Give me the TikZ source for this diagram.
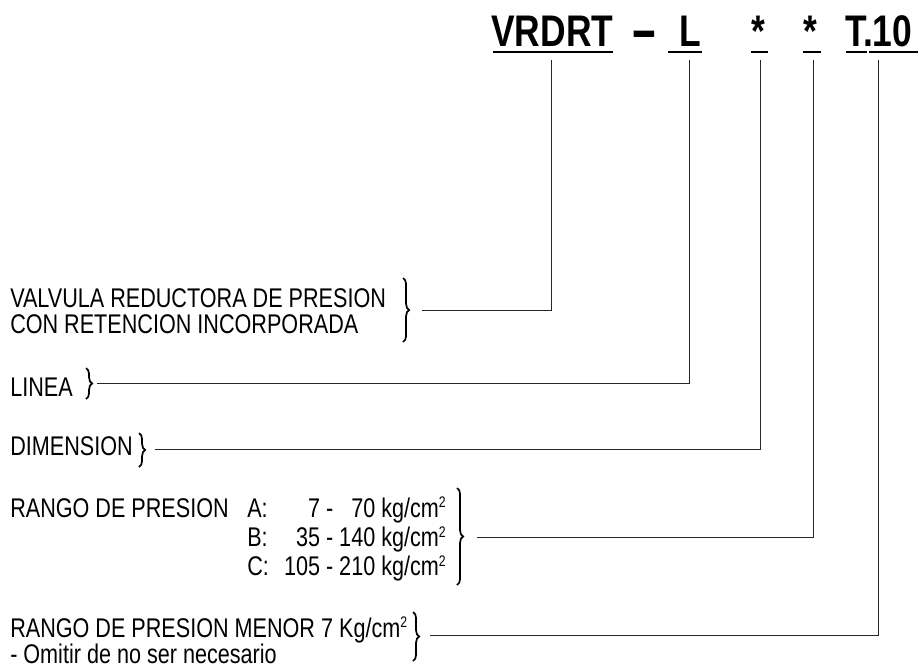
\documentclass[tikz,border=0pt]{standalone}
\usepackage{fontspec}
\newfontfamily\nf[FakeStretch=0.8]{Liberation Sans}
\newfontfamily\nfdash[FakeStretch=0.8,FakeBold=3]{Liberation Sans}
\usetikzlibrary{decorations.pathreplacing}
\newcommand\sqmark{\raisebox{6.8pt}{\fontsize{11.5}{11.5}\selectfont 2}}
\begin{document}
\begin{tikzpicture}[x=0.75pt,y=-0.75pt,
 lbl/.style={inner sep=0pt,anchor=base west,font={\nf\fontsize{20.25}{24}\selectfont}},
 rowtxt/.style={inner sep=0pt,font={\nf\fontsize{20.25}{22.1}\selectfont\lineskiplimit=-100pt\lineskip=0pt}},
 ttl/.style={inner sep=0pt,anchor=base west,font={\nf\bfseries\fontsize{33.2}{40}\selectfont}},
 conn/.style={line width=0.7pt,draw=black!85},
 uline/.style={line width=1.1pt},
 brc/.style={decorate,decoration={brace,amplitude=4.6pt},line width=1.3pt}]
\useasboundingbox (0,0) rectangle (919,668);

% title code
\node[ttl] (tv) at (491,46.7) {VRDRT};
\node[ttl,font={\nfdash\bfseries\fontsize{36}{40}\selectfont}] (td) at (633,46.7) {–};
\node[ttl] (tl) at (679,46.7) {L};
\node[ttl] (ts1) at (751,46.7) {*};
\node[ttl] (ts2) at (803,46.7) {*};
\node[ttl] (tt) at (845,46.7) {T.10};
\draw[uline] (493,52) -- (613,52);
\draw[uline] (668,52) -- (702,52);
\draw[uline] (751,52) -- (768,52);
\draw[uline] (803,52) -- (821,52);
\draw[uline] (846,52) -- (867,52);
\draw[uline] (869,52) -- (918,52);

% labels
\node[lbl] (v1) at (10,307) {VALVULA REDUCTORA DE PRESION};
\node[lbl] (v2) at (10,333) {CON RETENCION INCORPORADA};
\node[lbl] (li) at (10,396) {LINEA};
\node[lbl] (di) at (10,455) {DIMENSION};
\node[lbl] (rp) at (10,517) {RANGO DE PRESION};
\node[rowtxt,align=left,anchor=north west] (rabc) at (247,497)
  {\vphantom{\sqmark}A:\\B:\\C:};
\node[rowtxt,align=right,anchor=north east] (vabc) at (446,497)
  {\vphantom{\sqmark}7 - \phantom{1}70 kg/cm\sqmark\\35 - 140 kg/cm\sqmark\\105 - 210 kg/cm\sqmark};
\node[lbl] (m1) at (10,637) {RANGO DE PRESION MENOR 7 Kg/cm\sqmark};
\node[lbl] (m2) at (10,663) {- Omitir de no ser necesario};

% braces
\draw[brc] (403,278) -- (403,342);
\draw[brc] (86,368) -- (86,399);
\draw[brc] (139,433) -- (139,467);
\draw[brc] (457,488) -- (457,585);
\draw[brc] (413,612) -- (413,661);

% connector ends
\coordinate (s1) at (422,310);
\coordinate (s2) at (97,383.5);
\coordinate (s3) at (155,449);
\coordinate (s4) at (477,537);
\coordinate (s5) at (430,635);
\coordinate (t1) at (551,60);
\coordinate (t2) at (689,60);
\coordinate (t3) at (760,60);
\coordinate (t4) at (813,60);
\coordinate (t5) at (878,60);

\draw[conn] (s1) -| (t1);
\draw[conn] (s2) -| (t2);
\draw[conn] (s3) -| (t3);
\draw[conn] (s4) -| (t4);
\draw[conn] (s5) -| (t5);
\end{tikzpicture}
\end{document}
